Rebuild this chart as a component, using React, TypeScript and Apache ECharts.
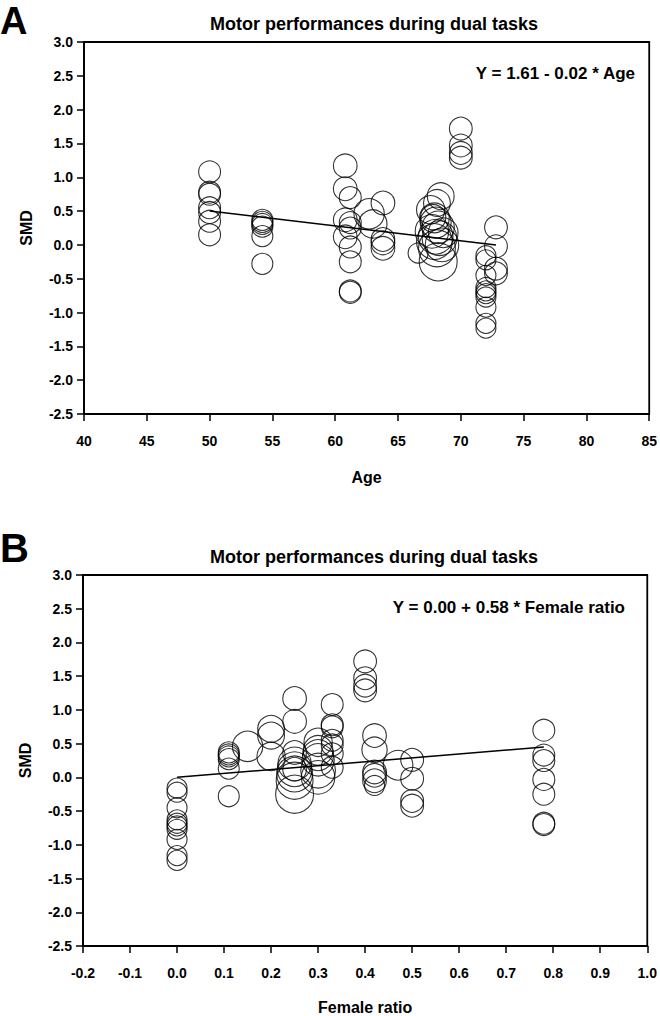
import React, { useEffect, useRef } from "react";
import * as echarts from "echarts";

// ---- data (one entry per effect size) ----
const ages: number[] = [
  50.0, 50.0, 50.0, 50.0, 50.0, 50.0, 50.0,
  54.2, 54.2, 54.2, 54.2, 54.2, 54.2,
  60.8, 60.8, 60.8, 60.8,
  61.2, 61.2, 61.2, 61.2, 61.2, 61.2, 61.2,
  62.7, 63.0,
  63.8, 63.8, 63.8, 63.8,
  66.6,
  68.4, 68.1, 67.6, 67.8, 67.9, 68.0, 68.2, 67.7, 68.6, 68.0, 68.3, 67.9, 68.5, 68.1, 68.2,
  70.0, 70.0, 70.0, 70.0,
  72.0, 72.0, 72.0, 72.0, 72.0, 72.0, 72.0, 72.0, 72.0, 72.0,
  72.8, 72.8, 72.8, 72.8,
];
const femaleRatios: number[] = [
  0.33, 0.33, 0.33, 0.33, 0.33, 0.33, 0.33,
  0.11, 0.11, 0.11, 0.11, 0.11, 0.11,
  0.25, 0.25, 0.25, 0.25,
  0.78, 0.78, 0.78, 0.78, 0.78, 0.78, 0.78,
  0.15, 0.2,
  0.42, 0.42, 0.42, 0.42,
  0.42,
  0.2, 0.2, 0.3, 0.42, 0.3, 0.3, 0.3, 0.25, 0.47, 0.25, 0.3, 0.25, 0.3, 0.25, 0.25,
  0.4, 0.4, 0.4, 0.4,
  0, 0, 0, 0, 0, 0, 0, 0, 0, 0,
  0.5, 0.5, 0.5, 0.5,
];
const smds: number[] = [
  1.08, 0.78, 0.75, 0.55, 0.48, 0.35, 0.15,
  0.37, 0.34, 0.31, 0.27, 0.13, -0.28,
  1.17, 0.83, 0.37, 0.12,
  0.70, 0.33, 0.25, -0.03, -0.25, -0.68, -0.70,
  0.46, 0.31,
  0.62, 0.08, 0.03, -0.05,
  -0.12,
  0.72, 0.62, 0.52, 0.41, 0.40, 0.33, 0.26, 0.20, 0.18, 0.12, 0.10, 0.05, 0.0, -0.05, -0.25,
  1.72, 1.47, 1.36, 1.29,
  -0.16, -0.22, -0.45, -0.63, -0.68, -0.72, -0.77, -0.92, -1.16, -1.23,
  0.26, -0.02, -0.35, -0.42,
];
const weights: number[] = [
  1.2, 1.2, 1.2, 1.2, 1.2, 1.2, 1.2,
  1.1, 1.1, 1.1, 1.1, 1.1, 1.1,
  1.4, 1.4, 1.4, 1.4,
  1.2, 1.2, 1.2, 1.2, 1.2, 1.2, 1.2,
  2.3, 2.0,
  1.4, 1.4, 1.4, 1.4,
  1.0,
  1.8, 1.8, 2.0, 1.6, 2.2, 2.4, 2.6, 2.8, 2.2, 3.0, 3.0, 3.2, 2.8, 3.4, 3.6,
  1.3, 1.3, 1.3, 1.3,
  1.0, 1.0, 1.0, 1.0, 1.0, 1.0, 1.0, 1.0, 1.0, 1.0,
  1.3, 1.3, 1.3, 1.3,
];

// regression lines (end points)
const fitAgeX: number[] = [50, 72.8];
const fitAgeY: number[] = [0.5, 0.0];
const fitFemaleX: number[] = [0, 0.78];
const fitFemaleY: number[] = [0.0, 0.45];

const smdTicks = { min: -2.5, max: 3.0, interval: 0.5 };
const ageTicks = { min: 40, max: 85, interval: 5 };
const femaleTicks = { min: -0.2, max: 1.0, interval: 0.1 };

const chartTitle = "Motor performances during dual tasks";
const eqAge = "Y = 1.61 - 0.02 * Age";
const eqFemale = "Y = 0.00 + 0.58 * Female ratio";

const FONT = "'Liberation Sans', Arial, sans-serif";

export default function App() {
  const ref = useRef<HTMLDivElement>(null);
  useEffect(() => {
    document.body.style.margin = "0";
    if (!ref.current) return;
    const chart = echarts.init(ref.current, undefined, { renderer: "svg" });

    const ptsA = ages.map((a, i) => [a, smds[i], weights[i]]);
    const ptsB = femaleRatios.map((f, i) => [f, smds[i], weights[i]]);

    const axisCommon = {
      axisLine: { show: true, onZero: false, lineStyle: { color: "#000", width: 1.8 } },
      axisTick: { show: true, inside: false, length: 7, lineStyle: { color: "#000", width: 1.5 } },
      splitLine: { show: false },
      nameTextStyle: { color: "#000", fontWeight: "bold", fontSize: 16, fontFamily: FONT },
    };
    const yAxisDef = (gridIndex: number) => ({
      type: "value",
      gridIndex,
      ...smdTicks,
      ...axisCommon,
      name: "SMD",
      nameLocation: "middle",
      nameGap: 50,
      axisLabel: {
        color: "#000",
        fontWeight: "bold",
        fontSize: 14,
        fontFamily: FONT,
        margin: 11,
        formatter: (v: number) => v.toFixed(1),
      },
    });

    const bubble = {
      type: "scatter",
      symbol: "circle",
      symbolSize: (val: number[]) => 20 * Math.sqrt(val[2]),
      itemStyle: { color: "rgba(0,0,0,0)", borderColor: "#000", borderWidth: 1.1 },
      emphasis: { disabled: true },
      z: 2,
    };
    const fitLine = {
      type: "line",
      symbol: "none",
      lineStyle: { color: "#000", width: 1.5 },
      z: 3,
    };

    chart.setOption({
      animation: false,
      grid: [
        { left: 84, top: 42, width: 568, height: 372, show: true, borderColor: "#000", borderWidth: 1.8, backgroundColor: "transparent" },
        { left: 83, top: 575, width: 566, height: 372, show: true, borderColor: "#000", borderWidth: 1.8, backgroundColor: "transparent" },
      ],
      xAxis: [
        {
          type: "value",
          gridIndex: 0,
          ...ageTicks,
          ...axisCommon,
          name: "Age",
          nameLocation: "middle",
          nameGap: 55,
          axisLabel: { color: "#000", fontWeight: "bold", fontSize: 14, fontFamily: FONT, margin: 20, formatter: (v: number) => String(Math.round(v)) },
        },
        {
          type: "value",
          gridIndex: 1,
          ...femaleTicks,
          ...axisCommon,
          name: "Female ratio",
          nameLocation: "middle",
          nameGap: 53,
          axisLabel: { color: "#000", fontWeight: "bold", fontSize: 14, fontFamily: FONT, margin: 20, formatter: (v: number) => v.toFixed(1) },
        },
      ],
      yAxis: [yAxisDef(0), yAxisDef(1)],
      series: [
        { ...bubble, xAxisIndex: 0, yAxisIndex: 0, data: ptsA },
        { ...fitLine, xAxisIndex: 0, yAxisIndex: 0, data: fitAgeX.map((x, i) => [x, fitAgeY[i]]) },
        { ...bubble, xAxisIndex: 1, yAxisIndex: 1, data: ptsB },
        { ...fitLine, xAxisIndex: 1, yAxisIndex: 1, data: fitFemaleX.map((x, i) => [x, fitFemaleY[i]]) },
      ],
      graphic: [
        { type: "text", x: 0, y: 21, style: { text: "A", fontSize: 38, fontWeight: "bold", fontFamily: FONT, fill: "#000", align: "left", verticalAlign: "middle" } },
        { type: "text", x: 0, y: 548, style: { text: "B", fontSize: 40, fontWeight: "bold", fontFamily: FONT, fill: "#000", align: "left", verticalAlign: "middle" } },
        { type: "text", x: 374, y: 24, style: { text: chartTitle, fontSize: 18, fontWeight: "bold", fontFamily: FONT, fill: "#000", align: "center", verticalAlign: "middle" } },
        { type: "text", x: 374, y: 557, style: { text: chartTitle, fontSize: 18, fontWeight: "bold", fontFamily: FONT, fill: "#000", align: "center", verticalAlign: "middle" } },
        { type: "text", x: 635, y: 73, style: { text: eqAge, fontSize: 17, fontWeight: "bold", fontFamily: FONT, fill: "#000", align: "right", verticalAlign: "middle" } },
        { type: "text", x: 625, y: 607, style: { text: eqFemale, fontSize: 17, fontWeight: "bold", fontFamily: FONT, fill: "#000", align: "right", verticalAlign: "middle" } },
      ],
    });
    return () => chart.dispose();
  }, []);
  return <div ref={ref} style={{ width: 660, height: 1016 }} />;
}
